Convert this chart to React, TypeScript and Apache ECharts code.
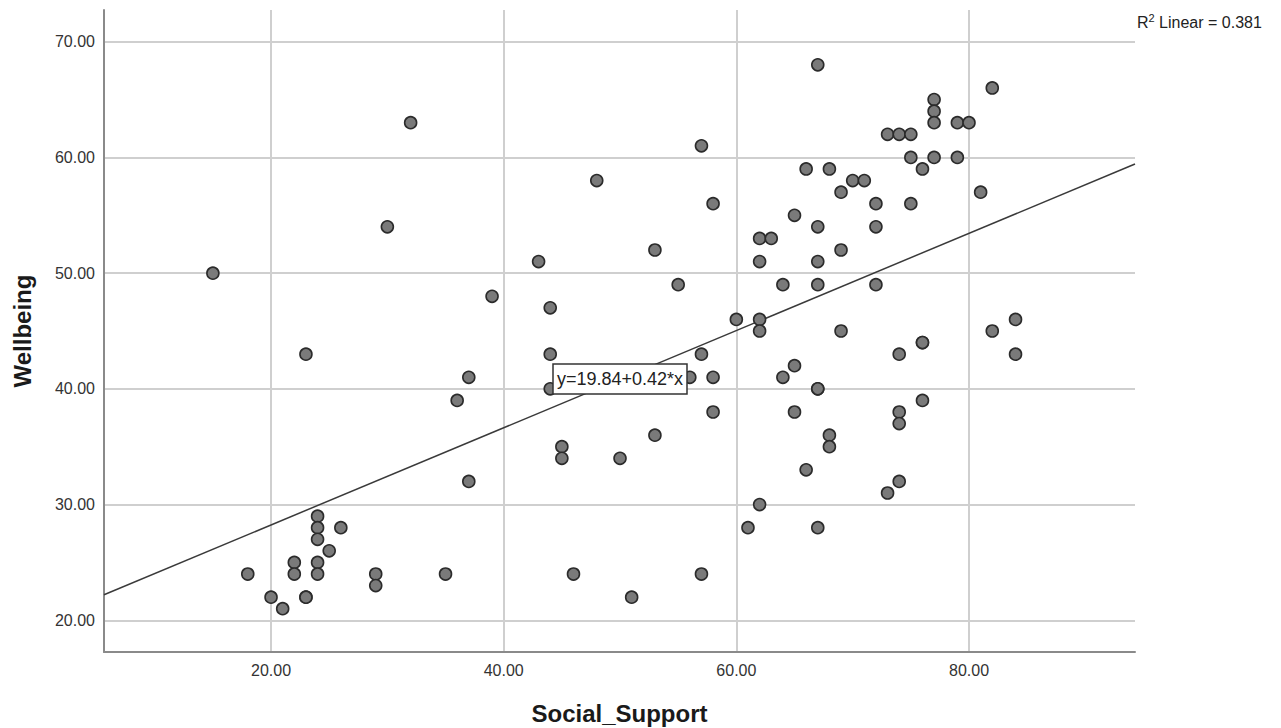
import React, { useEffect, useRef } from "react";
import * as echarts from "echarts";

// Scatter data: [Social_Support, Wellbeing]
const socialSupport: number[] = [
  15, 18, 20, 21, 22, 22, 23, 23, 23, 24, 24, 24, 24, 24, 25, 26, 29, 29, 30, 32,
  35, 36, 37, 37, 39, 43, 44, 44, 44, 45, 45, 46, 48, 50, 51, 53, 53, 55, 56, 57,
  57, 57, 58, 58, 58, 60, 61, 62, 62, 62, 62, 62, 63, 64, 64, 65, 65, 65, 66, 66,
  67, 67, 67, 67, 67, 67, 67, 68, 68, 68, 69, 69, 69, 70, 71, 72, 72, 72, 73, 73,
  74, 74, 74, 74, 74, 75, 75, 75, 76, 76, 76, 76, 77, 77, 77, 77, 79, 79, 80, 81,
  82, 82, 84, 84,
];
const wellbeing: number[] = [
  50, 24, 22, 21, 25, 24, 43, 22, 22, 29, 28, 27, 25, 24, 26, 28, 24, 23, 54, 63,
  24, 39, 41, 32, 48, 51, 47, 43, 40, 35, 34, 24, 58, 34, 22, 52, 36, 49, 41, 61,
  43, 24, 56, 41, 38, 46, 28, 53, 51, 46, 45, 30, 53, 49, 41, 55, 42, 38, 59, 33,
  68, 54, 51, 49, 40, 40, 28, 59, 36, 35, 57, 52, 45, 58, 58, 56, 54, 49, 62, 31,
  62, 43, 38, 37, 32, 62, 60, 56, 59, 44, 44, 39, 65, 64, 63, 60, 63, 60, 63, 57,
  66, 45, 46, 43,
];

// Fit line reported in the chart
const intercept = 19.84;
const slope = 0.42;
const rSquared = "0.381";
const equationText = "y=19.84+0.42*x";

// Axis ranges
const xMin = 5.64;
const xMax = 94.27;
const yMin = 17.26;
const yMax = 72.74;

export default function App() {
  const ref = useRef<HTMLDivElement>(null);

  useEffect(() => {
    if (!ref.current) return;
    const chart = echarts.init(ref.current, undefined, { renderer: "svg" });
    const points = socialSupport.map((x, i) => [x, wellbeing[i]]);
    const fitLine = [
      [xMin, intercept + slope * xMin],
      [xMax, intercept + slope * xMax],
    ];
    const font = "Arial, 'Liberation Sans', sans-serif";
    chart.setOption({
      animation: false,
      backgroundColor: "#ffffff",
      grid: {
        left: 104,
        right: 146,
        top: 10,
        bottom: 76,
        containLabel: false,
        outerBoundsMode: "none",
      },
      xAxis: {
        type: "value",
        min: xMin,
        max: xMax,
        minInterval: 20,
        maxInterval: 20,
        name: "Social_Support",
        nameLocation: "middle",
        nameGap: 49,
        nameTextStyle: { fontFamily: font, fontSize: 24, fontWeight: "bold", color: "#1a1a1a" },
        axisLine: { show: true, lineStyle: { color: "#8a8a8a", width: 2 } },
        axisTick: { show: false },
        axisLabel: {
          fontFamily: font,
          fontSize: 16,
          color: "#333",
          margin: 10,
          showMinLabel: false,
          showMaxLabel: false,
          formatter: (v: number) => v.toFixed(2),
        },
        splitLine: {
          show: true,
          showMinLine: false,
          showMaxLine: false,
          lineStyle: { color: "#cfcfcf", width: 2 },
        },
      },
      yAxis: {
        type: "value",
        min: yMin,
        max: yMax,
        minInterval: 10,
        maxInterval: 10,
        name: "Wellbeing",
        nameLocation: "middle",
        nameGap: 70,
        nameRotate: 90,
        nameTextStyle: { fontFamily: font, fontSize: 24, fontWeight: "bold", color: "#1a1a1a" },
        axisLine: { show: true, lineStyle: { color: "#8a8a8a", width: 2 } },
        axisTick: { show: false },
        axisLabel: {
          fontFamily: font,
          fontSize: 16,
          color: "#333",
          margin: 9,
          showMinLabel: false,
          showMaxLabel: false,
          formatter: (v: number) => v.toFixed(2),
        },
        splitLine: {
          show: true,
          showMinLine: false,
          showMaxLine: false,
          lineStyle: { color: "#cfcfcf", width: 2 },
        },
      },
      series: [
        {
          type: "line",
          data: fitLine,
          symbol: "none",
          lineStyle: { color: "#3a3a3a", width: 1.5 },
          z: 2,
        },
        {
          type: "scatter",
          data: points,
          symbol: "circle",
          symbolSize: 12,
          itemStyle: { color: "#7a7a7a", borderColor: "#2b2b2b", borderWidth: 1.6, opacity: 1 },
          z: 3,
        },
      ],
      graphic: [
        {
          type: "rect",
          z: 100,
          shape: { x: 553, y: 364, width: 134, height: 30 },
          style: { fill: "#ffffff", stroke: "#333", lineWidth: 1.5 },
        },
        {
          type: "text",
          z: 101,
          x: 620,
          y: 379,
          style: {
            text: equationText,
            fontFamily: font,
            fontSize: 18,
            fill: "#222",
            align: "center",
            verticalAlign: "middle",
          },
        },
        {
          type: "text",
          z: 101,
          left: 1137,
          top: 12,
          style: {
            text: "R{sup|2} Linear = " + rSquared,
            fontFamily: font,
            fontSize: 16,
            fill: "#222",
            rich: {
              sup: { fontSize: 11, verticalAlign: "top", padding: [0, 0, 9, 0], fontFamily: font, fill: "#222" },
            },
          },
        },
      ],
    });
    return () => chart.dispose();
  }, []);

  return (
    <div
      ref={ref}
      style={{ width: 1281, height: 728, position: "absolute", left: 0, top: 0, background: "#fff" }}
    />
  );
}
